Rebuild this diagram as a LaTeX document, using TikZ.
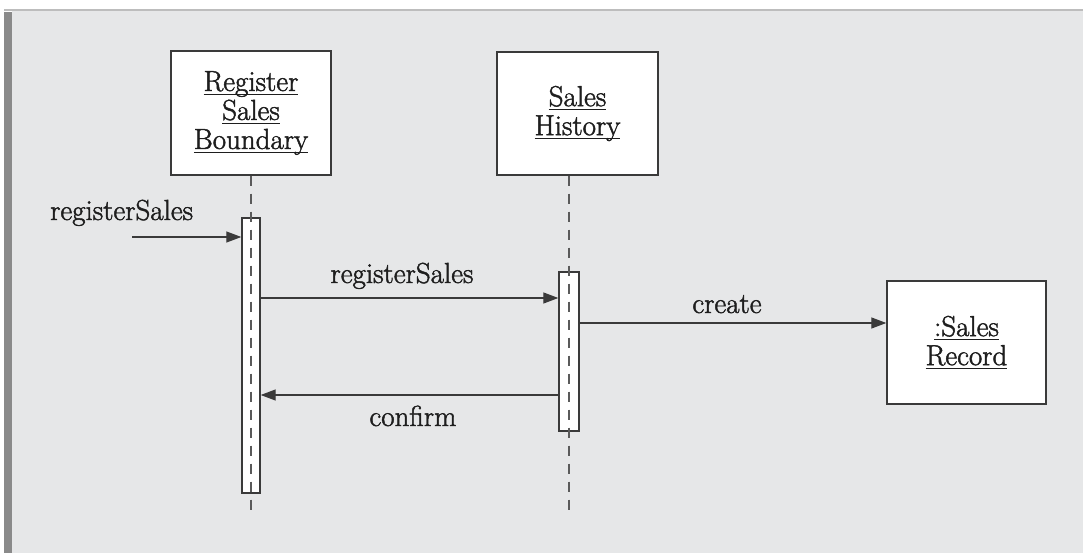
\documentclass[tikz,border=0pt]{standalone}
\usepackage{fontspec}
\setmainfont{Latin Modern Roman}[FakeBold=1.6]
\usetikzlibrary{arrows.meta}
\definecolor{panel}{HTML}{E6E7E8}
\definecolor{topline}{HTML}{BDBDBD}
\definecolor{leftbar}{HTML}{8A8A8A}
\definecolor{ink}{HTML}{1E1E1E}
\definecolor{edge}{HTML}{3A3A3A}
\definecolor{life}{HTML}{5A5A5A}
\newcommand\myul[1]{\setbox0\hbox{#1}\rlap{\rule[-4pt]{\wd0}{1.3pt}}\box0}
\begin{document}
\begin{tikzpicture}[x=1pt,y=-1pt,
  every node/.style={font=\fontsize{29}{29}\selectfont, text=ink},
  objbox/.style={draw=edge, line width=1.4pt, fill=white, align=center, inner sep=0pt},
  actbox/.style={draw=edge, line width=1.4pt, fill=white, inner sep=0pt},
  lifeline/.style={draw=life, line width=1.5pt, dash pattern=on 10pt off 8pt},
  msg/.style={draw=edge, line width=1.3pt, -{Triangle[length=15pt,width=11pt]}},
  lbl/.style={inner sep=0pt, anchor=base}]
\useasboundingbox (0,0) rectangle (1083,553);
\fill[white] (0,0) rectangle (1083,553);
\fill[panel] (12,10) rectangle (1083,553);
\draw[topline, line width=2pt] (4,10) -- (1083,10);
\fill[leftbar] (4,12) rectangle (12,553);

% objects
\node[objbox, minimum width=160pt, minimum height=124pt] (rsb) at (251,113)
  {\myul{Register}\\\myul{Sales}\\\myul{Boundary}};
\node[objbox, minimum width=161pt, minimum height=123pt] (sh) at (577.5,113.5)
  {\myul{Sales}\\\myul{History}};
\node[objbox, minimum width=159pt, minimum height=123pt] (sr) at (966.5,342.5)
  {\myul{:Sales}\\\myul{Record}};

% activations
\node[actbox, minimum width=18pt, minimum height=275pt] (a1) at (251,355.5) {};
\node[actbox, minimum width=20pt, minimum height=159pt] (a2) at (569,351.5) {};

% lifelines
\coordinate (e1) at (251,516);
\coordinate (e2) at (569,516);
\draw[lifeline] (rsb.south) -- (e1);
\draw[lifeline] (a2.north |- sh.south) -- (e2);

% messages
\coordinate (in) at (132,237);
\draw[msg] (in) -- (in -| a1.west);
\coordinate (m2) at (0,298);
\draw[msg] (m2 -| a1.east) -- (m2 -| a2.west);
\coordinate (m3) at (0,323);
\draw[msg] (m3 -| a2.east) -- (m3 -| sr.west);
\coordinate (m4) at (0,395);
\draw[msg] (m4 -| a2.west) -- (m4 -| a1.east);

% labels
\node[lbl, anchor=base west] (l1) at (50,220) {registerSales};
\node[lbl] (l2) at (402,283) {registerSales};
\node[lbl] (l3) at (727,313) {create};
\node[lbl] (l4) at (413,426) {confirm};
\end{tikzpicture}
\end{document}
